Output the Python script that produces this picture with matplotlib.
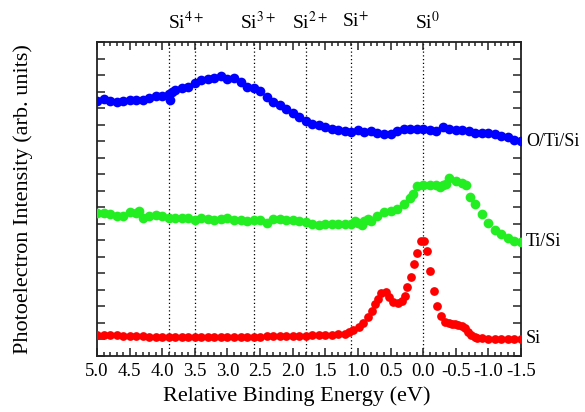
import matplotlib
matplotlib.use('Agg')
import matplotlib.pyplot as plt
from matplotlib.ticker import MultipleLocator
import matplotlib.transforms as mtransforms

plt.rcParams['font.family'] = ['Liberation Serif', 'DejaVu Serif']
plt.rcParams['mathtext.fontset'] = 'stix'

##########
# Data
##########

# O/Ti/Si (blue)
e_oti = [5.0, 4.9, 4.8, 4.7, 4.6, 4.5, 4.4, 4.3, 4.2, 4.1, 4.0, 3.9, 3.88, 3.85,
         3.8, 3.7, 3.6, 3.5, 3.4, 3.3, 3.2, 3.1, 3.0, 2.9, 2.8, 2.7, 2.6, 2.5,
         2.4, 2.3, 2.2, 2.1, 2.0, 1.9, 1.8, 1.7, 1.6, 1.5, 1.4, 1.3, 1.2, 1.1,
         1.0, 0.9, 0.8, 0.7, 0.6, 0.5, 0.4, 0.3, 0.2, 0.1, 0.0, -0.1, -0.2,
         -0.3, -0.4, -0.5, -0.6, -0.7, -0.8, -0.9, -1.0, -1.1, -1.2, -1.3,
         -1.4, -1.5]
i_oti = [15.41, 15.55, 15.45, 15.35, 15.41, 15.5, 15.5, 15.47, 15.6, 15.75,
         15.75, 15.85, 15.5, 16.0, 16.08, 16.22, 16.28, 16.5, 16.72, 16.78,
         16.8, 16.95, 16.78, 16.83, 16.6, 16.28, 16.2, 16.02, 15.7, 15.4,
         15.2, 14.95, 14.7, 14.48, 14.2, 14.05, 13.95, 13.88, 13.75, 13.65,
         13.6, 13.58, 13.7, 13.55, 13.6, 13.5, 13.42, 13.45, 13.6, 13.75,
         13.72, 13.75, 13.75, 13.65, 13.62, 13.88, 13.75, 13.7, 13.7, 13.6,
         13.5, 13.5, 13.5, 13.42, 13.3, 13.25, 13.1, 12.99]

# Ti/Si (green)
e_ti = [5.0, 4.9, 4.8, 4.7, 4.6, 4.5, 4.4, 4.35, 4.3, 4.2, 4.1, 4.0, 3.9,
        3.8, 3.7, 3.6, 3.5, 3.4, 3.3, 3.2, 3.1, 3.0, 2.9, 2.8, 2.7, 2.6, 2.5,
        2.4, 2.3, 2.2, 2.1, 2.0, 1.9, 1.8, 1.7, 1.6, 1.5, 1.4, 1.3, 1.2, 1.1,
        1.05, 1.0, 0.94, 0.9, 0.85, 0.8, 0.7, 0.6, 0.5, 0.4, 0.3, 0.2, 0.15,
        0.1, 0.0, -0.1, -0.2, -0.26, -0.3, -0.35, -0.4, -0.5, -0.6, -0.66,
        -0.72, -0.8, -0.9, -1.0, -1.1, -1.2, -1.3, -1.4, -1.5]
i_ti = [8.65, 8.65, 8.6, 8.5, 8.45, 8.7, 8.65, 8.8, 8.38, 8.5, 8.55, 8.45,
        8.38, 8.35, 8.38, 8.38, 8.2, 8.35, 8.32, 8.25, 8.3, 8.35, 8.25, 8.2,
        8.18, 8.24, 8.2, 8.05, 8.3, 8.28, 8.2, 8.2, 8.15, 8.12, 8.0, 7.95,
        7.97, 7.98, 8.0, 7.98, 8.0, 8.18, 8.05, 7.92, 8.15, 8.3, 8.15, 8.5,
        8.7, 8.8, 8.92, 9.2, 9.55, 9.8, 10.26, 10.36, 10.36, 10.36, 10.22,
        10.35, 10.41, 10.78, 10.58, 10.45, 10.32, 9.65, 9.2, 8.6, 8.05, 7.64,
        7.38, 7.12, 6.97, 6.9]

# Si (red)
e_si = [5.0, 4.9, 4.8, 4.7, 4.6, 4.5, 4.4, 4.3, 4.2, 4.1, 4.0, 3.9, 3.8,
        3.7, 3.6, 3.5, 3.4, 3.3, 3.2, 3.1, 3.0, 2.9, 2.8, 2.7, 2.6, 2.5, 2.4,
        2.3, 2.2, 2.1, 2.0, 1.9, 1.8, 1.7, 1.6, 1.5, 1.4, 1.3, 1.2, 1.13,
        1.07, 0.99, 0.92, 0.84, 0.78, 0.74, 0.69, 0.64, 0.57, 0.52, 0.46,
        0.38, 0.33, 0.28, 0.24, 0.19, 0.14, 0.09, 0.04, -0.01, -0.06, -0.11,
        -0.17, -0.21, -0.27, -0.34, -0.39, -0.44, -0.49, -0.54, -0.59, -0.64,
        -0.69, -0.74, -0.79, -0.83, -0.9, -1.0, -1.1, -1.2, -1.3, -1.4, -1.5]
i_si = [1.27, 1.27, 1.26, 1.25, 1.24, 1.22, 1.2, 1.19, 1.18, 1.17, 1.16,
        1.15, 1.15, 1.14, 1.14, 1.13, 1.13, 1.13, 1.13, 1.13, 1.13, 1.14,
        1.15, 1.16, 1.17, 1.18, 1.19, 1.2, 1.21, 1.21, 1.22, 1.23, 1.24,
        1.25, 1.26, 1.27, 1.29, 1.31, 1.33, 1.45, 1.58, 1.78, 2.02, 2.38,
        2.73, 3.15, 3.45, 3.84, 3.9, 3.59, 3.29, 3.19, 3.35, 3.64, 4.2, 4.77,
        5.56, 6.26, 6.97, 6.97, 6.38, 5.17, 3.96, 3.05, 2.42, 2.08, 2.0,
        1.94, 1.92, 1.88, 1.8, 1.68, 1.48, 1.27, 1.15, 1.07, 1.06, 1.05,
        1.05, 1.05, 1.04, 1.04, 1.03]

series_names = ['O/Ti/Si', 'Ti/Si', 'Si']

# chemical shift markers
line_energies = [3.9, 3.5, 2.6, 1.8, 1.1, 0.0]
state_labels = [r'Si$^{4+}$', r'Si$^{3+}$', r'Si$^{2+}$', r'Si$^{+}$', r'Si$^{0}$']
state_energies = [3.7, 2.6, 1.8, 1.1, 0.0]

##########
# Plot
##########

fig = plt.figure(figsize=(5.85, 4.12), dpi=100)
ax = fig.add_axes([0.1658, 0.1359, 0.7248, 0.7621])

for e in line_energies:
    ax.axvline(e, color='black', ls=(0, (1, 2)), lw=0.9, zorder=1)

data = [(e_oti, i_oti, '#0000ff', 7.0), (e_ti, i_ti, '#22ee22', 7.0), (e_si, i_si, '#ff0000', 6.3)]
for (e, inten, col, ms), name in zip(data, series_names):
    ax.plot(e, inten, 'o', color=col, ms=ms, mew=0, zorder=3)
    ax.text(1.012, inten[-1], name, transform=mtransforms.blended_transform_factory(ax.transAxes, ax.transData),
            ha='left', va='center', fontsize=13)

trans = mtransforms.blended_transform_factory(ax.transData, ax.transAxes)
for lab, e in zip(state_labels, state_energies):
    off = mtransforms.offset_copy(trans, fig=fig, x=3, y=0, units='points')
    ax.text(e, 1.065, lab, transform=off, ha='center', va='center', fontsize=14)

ax.set_xlim(5.0, -1.5)
ax.set_ylim(0, 19)
ax.xaxis.set_major_locator(MultipleLocator(0.5))
ax.xaxis.set_minor_locator(MultipleLocator(0.1))
ax.yaxis.set_major_locator(MultipleLocator(1))
ax.set_yticklabels([])
ax.xaxis.set_major_formatter(plt.FuncFormatter(lambda v, p: '%.1f' % v))

ax.tick_params(which='both', direction='in', top=True, right=True, width=1.1, colors='#222222',
               labelcolor='black')
ax.tick_params(which='major', length=6)
ax.tick_params(which='minor', length=3)
ax.tick_params(axis='x', labelsize=13.5, pad=5)
for s in ax.spines.values():
    s.set_linewidth(1.3)
    s.set_color('#222222')

ax.set_xlabel('Relative Binding Energy (eV)', fontsize=16)
ax.set_ylabel('Photoelectron Intensity (arb. units)', fontsize=16)
ax.xaxis.set_label_coords(0.47, -0.095)
ax.yaxis.set_label_coords(-0.15, 0.5)

fig.savefig('out.png', dpi=100)
